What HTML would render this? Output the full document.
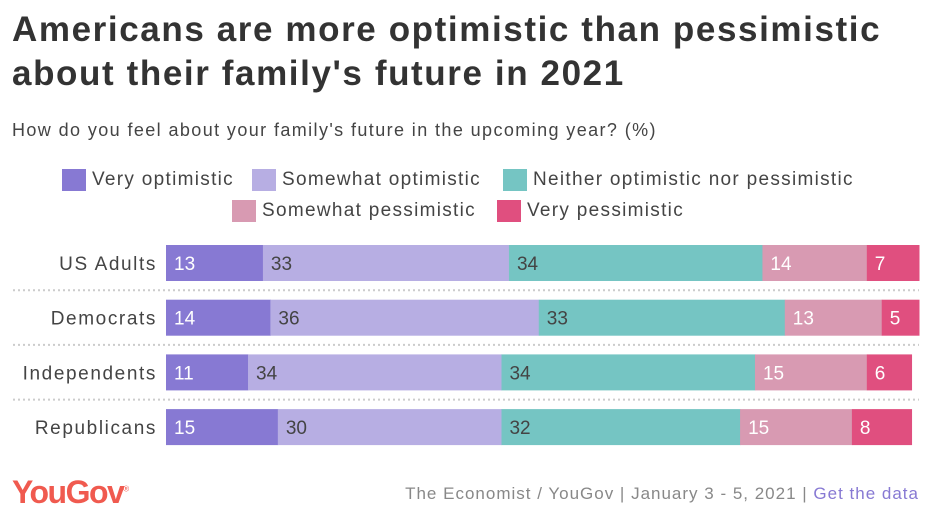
<!DOCTYPE html>
<html><head><meta charset="utf-8">
<style>
body{margin:0;width:929px;height:530px;background:#fff;font-family:"Liberation Sans",sans-serif;position:relative;overflow:hidden}
.t{position:absolute;white-space:nowrap}
#title{left:12px;top:8px;font-size:35px;font-weight:bold;color:#333;line-height:44px;letter-spacing:1.6px}
#sub{left:12px;top:120px;font-size:18px;color:#444;letter-spacing:1.4px}
.leg{position:absolute;font-size:19px;color:#444;white-space:nowrap;line-height:22px;letter-spacing:1.3px}
.sw{display:inline-block;width:24px;height:22px;vertical-align:top;margin-right:6px}
</style></head><body>
<div id="title" class="t">Americans are more optimistic than pessimistic<br>about their family's future in 2021</div>
<div id="sub" class="t">How do you feel about your family's future in the upcoming year? (%)</div>
<div class="leg" style="left:62px;top:169px"><span class="sw" style="background:#8779d3"></span>Very optimistic</div>
<div class="leg" style="left:252px;top:169px"><span class="sw" style="background:#b7aee3"></span>Somewhat optimistic</div>
<div class="leg" style="left:503px;top:169px"><span class="sw" style="background:#75c5c3"></span>Neither optimistic nor pessimistic</div>
<div class="leg" style="left:232px;top:200px"><span class="sw" style="background:#d89ab2"></span>Somewhat pessimistic</div>
<div class="leg" style="left:497px;top:200px"><span class="sw" style="background:#e04f7f"></span>Very pessimistic</div>
<svg id="chart" width="929" height="530" style="position:absolute;left:0;top:0"></svg>
<div class="t" style="left:12px;top:474px;font-size:32px;font-weight:bold;color:#f05a4f;letter-spacing:-1.5px">YouGov<sup style="font-size:8px;font-weight:normal">®</sup></div>
<div class="t" style="right:10px;top:484px;font-size:17px;color:#888;letter-spacing:1.0px">The Economist / YouGov | January 3 - 5, 2021 | <span style="color:#8779d3">Get the data</span></div>
<script>
const categories=["US Adults","Democrats","Independents","Republicans"];
const veryOpt=[13,14,11,15];
const somewhatOpt=[33,36,34,30];
const neither=[34,33,34,32];
const somewhatPess=[14,13,15,15];
const veryPess=[7,5,6,8];
const seriesNames=["very-optimistic","somewhat-optimistic","neither","somewhat-pessimistic","very-pessimistic"];
const seriesColors=["#8779d3","#b7aee3","#75c5c3","#d89ab2","#e04f7f"];
const textColors=["#fff","#444","#444","#fff","#fff"];
const series=[veryOpt,somewhatOpt,neither,somewhatPess,veryPess];
const svg=document.getElementById('chart');
const NS="http://www.w3.org/2000/svg";
const x0=166,unit=753/101;
const xs=v=>v*unit;
const rowY=i=>245+i*54.7;
const barH=36;
categories.forEach((c,i)=>{
  const y=rowY(i);
  const lab=document.createElementNS(NS,'text');
  lab.setAttribute('x',157);lab.setAttribute('y',y+barH/2+7);
  lab.setAttribute('text-anchor','end');lab.setAttribute('font-size','19');lab.setAttribute('fill','#444');
  lab.setAttribute('letter-spacing','1.6');
  lab.setAttribute('font-family','Liberation Sans, sans-serif');
  lab.textContent=c;
  
  
  svg.appendChild(lab);
  if(i>0){
    const ln=document.createElementNS(NS,'line');
    ln.setAttribute('x1',13);ln.setAttribute('x2',919);
    ln.setAttribute('y1',y-9.5);ln.setAttribute('y2',y-9.5);
    ln.setAttribute('stroke','#ccc');ln.setAttribute('stroke-width','2');ln.setAttribute('stroke-dasharray','2 3');
    
    
    svg.appendChild(ln);
  }
  let cx=x0;
  series.forEach((s,k)=>{
    const w=xs(s[i]);
    const r=document.createElementNS(NS,'rect');
    r.setAttribute('x',cx);r.setAttribute('y',y);r.setAttribute('width',w+0.5);r.setAttribute('height',barH);
    r.setAttribute('fill',seriesColors[k]);
    
    
    svg.appendChild(r);
    const t=document.createElementNS(NS,'text');
    t.setAttribute('x',cx+8);t.setAttribute('y',y+barH/2+7);
    t.setAttribute('font-size','19');t.setAttribute('fill',textColors[k]);
    t.setAttribute('font-family','Liberation Sans, sans-serif');
    t.textContent=s[i];
    
    
    svg.appendChild(t);
    cx+=w;
  });
});
</script>
</body></html>
